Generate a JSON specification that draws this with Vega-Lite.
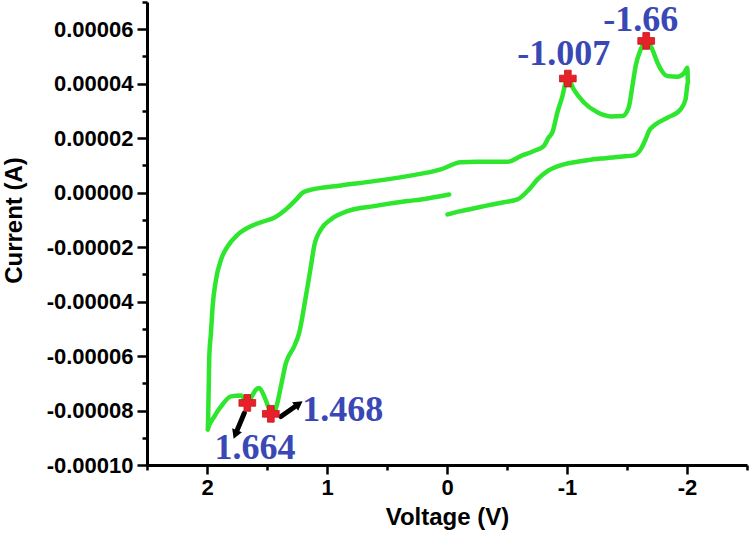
{
  "$schema": "https://vega.github.io/schema/vega-lite/v6.json",
  "width": 600,
  "height": 463,
  "autosize": "none",
  "padding": {"left": 147, "top": 2, "right": 3, "bottom": 73},
  "background": "white",
  "config": {
    "view": {"stroke": null},
    "axis": {
      "grid": false,
      "domainColor": "black",
      "domainWidth": 3,
      "tickColor": "black",
      "tickWidth": 2.5,
      "labelColor": "black",
      "labelFont": "Liberation Sans",
      "labelFontWeight": "bold",
      "labelFontSize": 22,
      "titleFont": "Liberation Sans",
      "titleFontWeight": "bold",
      "titleFontSize": 24,
      "titleColor": "black",
      "labelOverlap": false,
      "labelBound": false,
      "labelFlush": false
    }
  },
  "datasets": {
    "curve": [
      {"i": 1, "v": -0.018, "c": -6.6e-7},
      {"i": 2, "v": 0.218, "c": -2.5e-6},
      {"i": 3, "v": 0.329, "c": -3.1e-6},
      {"i": 4, "v": 0.607, "c": -4.96e-6},
      {"i": 5, "v": 0.829, "c": -6.8e-6},
      {"i": 6, "v": 0.968, "c": -9.85e-6},
      {"i": 7, "v": 1.051, "c": -1.353e-5},
      {"i": 8, "v": 1.107, "c": -1.967e-5},
      {"i": 9, "v": 1.134, "c": -2.7e-5},
      {"i": 10, "v": 1.162, "c": -3.44e-5},
      {"i": 11, "v": 1.19, "c": -4.17e-5},
      {"i": 12, "v": 1.232, "c": -5.15e-5},
      {"i": 13, "v": 1.273, "c": -5.64e-5},
      {"i": 14, "v": 1.342, "c": -6.25e-5},
      {"i": 15, "v": 1.384, "c": -7.11e-5},
      {"i": 16, "v": 1.426, "c": -7.91e-5},
      {"i": 17, "v": 1.468, "c": -8.12e-5},
      {"i": 18, "v": 1.481, "c": -7.97e-5},
      {"i": 19, "v": 1.523, "c": -7.48e-5},
      {"i": 20, "v": 1.565, "c": -7.17e-5},
      {"i": 21, "v": 1.592, "c": -7.23e-5},
      {"i": 22, "v": 1.634, "c": -7.54e-5},
      {"i": 23, "v": 1.664, "c": -7.72e-5},
      {"i": 24, "v": 1.717, "c": -7.45e-5},
      {"i": 25, "v": 1.8, "c": -7.48e-5},
      {"i": 26, "v": 1.883, "c": -7.85e-5},
      {"i": 27, "v": 1.939, "c": -8.22e-5},
      {"i": 28, "v": 1.994, "c": -8.7e-5},
      {"i": 29, "v": 1.986, "c": -7.23e-5},
      {"i": 30, "v": 1.981, "c": -6.01e-5},
      {"i": 31, "v": 1.967, "c": -5.15e-5},
      {"i": 32, "v": 1.953, "c": -4.17e-5},
      {"i": 33, "v": 1.925, "c": -3.19e-5},
      {"i": 34, "v": 1.883, "c": -2.46e-5},
      {"i": 35, "v": 1.828, "c": -1.97e-5},
      {"i": 36, "v": 1.744, "c": -1.54e-5},
      {"i": 37, "v": 1.634, "c": -1.23e-5},
      {"i": 38, "v": 1.523, "c": -1.05e-5},
      {"i": 39, "v": 1.44, "c": -9.2e-6},
      {"i": 40, "v": 1.328, "c": -5.6e-6},
      {"i": 41, "v": 1.25, "c": -2.2e-6},
      {"i": 42, "v": 1.2, "c": 1e-7},
      {"i": 43, "v": 1.12, "c": 1.2e-6},
      {"i": 44, "v": 0.884, "c": 2.65e-6},
      {"i": 45, "v": 0.607, "c": 4.23e-6},
      {"i": 46, "v": 0.329, "c": 6.07e-6},
      {"i": 47, "v": 0.052, "c": 8.53e-6},
      {"i": 48, "v": -0.115, "c": 1.12e-5},
      {"i": 49, "v": -0.254, "c": 1.136e-5},
      {"i": 50, "v": -0.504, "c": 1.136e-5},
      {"i": 51, "v": -0.615, "c": 1.34e-5},
      {"i": 52, "v": -0.723, "c": 1.53e-5},
      {"i": 53, "v": -0.806, "c": 1.71e-5},
      {"i": 54, "v": -0.848, "c": 2.03e-5},
      {"i": 55, "v": -0.878, "c": 2.21e-5},
      {"i": 56, "v": -0.92, "c": 2.95e-5},
      {"i": 57, "v": -0.962, "c": 3.55e-5},
      {"i": 58, "v": -0.989, "c": 4.05e-5},
      {"i": 59, "v": -1.007, "c": 4.19e-5},
      {"i": 60, "v": -1.056, "c": 3.79e-5},
      {"i": 61, "v": -1.139, "c": 3.32e-5},
      {"i": 62, "v": -1.253, "c": 2.95e-5},
      {"i": 63, "v": -1.364, "c": 2.8e-5},
      {"i": 64, "v": -1.461, "c": 2.81e-5},
      {"i": 65, "v": -1.514, "c": 3.13e-5},
      {"i": 66, "v": -1.545, "c": 3.91e-5},
      {"i": 67, "v": -1.572, "c": 4.65e-5},
      {"i": 68, "v": -1.614, "c": 5.26e-5},
      {"i": 69, "v": -1.66, "c": 5.57e-5},
      {"i": 70, "v": -1.711, "c": 5.26e-5},
      {"i": 71, "v": -1.753, "c": 4.78e-5},
      {"i": 72, "v": -1.836, "c": 4.28e-5},
      {"i": 73, "v": -1.919, "c": 4.26e-5},
      {"i": 74, "v": -1.974, "c": 4.38e-5},
      {"i": 75, "v": -2.003, "c": 4.59e-5},
      {"i": 76, "v": -2.008, "c": 4.04e-5},
      {"i": 77, "v": -1.988, "c": 3.43e-5},
      {"i": 78, "v": -1.947, "c": 3.06e-5},
      {"i": 79, "v": -1.836, "c": 2.75e-5},
      {"i": 80, "v": -1.739, "c": 2.51e-5},
      {"i": 81, "v": -1.683, "c": 2.26e-5},
      {"i": 82, "v": -1.655, "c": 1.96e-5},
      {"i": 83, "v": -1.614, "c": 1.59e-5},
      {"i": 84, "v": -1.558, "c": 1.37e-5},
      {"i": 85, "v": -1.447, "c": 1.32e-5},
      {"i": 86, "v": -1.281, "c": 1.25e-5},
      {"i": 87, "v": -1.087, "c": 1.136e-5},
      {"i": 88, "v": -0.975, "c": 1.04e-5},
      {"i": 89, "v": -0.837, "c": 7.9e-6},
      {"i": 90, "v": -0.754, "c": 4.85e-6},
      {"i": 91, "v": -0.684, "c": 1.2e-6},
      {"i": 92, "v": -0.587, "c": -2.5e-6},
      {"i": 93, "v": -0.475, "c": -3.5e-6},
      {"i": 94, "v": -0.309, "c": -4.96e-6},
      {"i": 95, "v": -0.115, "c": -6.8e-6},
      {"i": 96, "v": -0.004, "c": -8.0e-6}
    ],
    "peaks": [
      {"v": 1.664, "c": -7.72e-5},
      {"v": 1.468, "c": -8.12e-5},
      {"v": -1.007, "c": 4.19e-5},
      {"v": -1.66, "c": 5.57e-5}
    ],
    "labels": [
      {"t": "-1.66", "v": -1.614, "c": 6.35e-5},
      {"t": "-1.007", "v": -0.973, "c": 5.1e-5},
      {"t": "1.468", "v": 0.868, "c": -7.97e-5},
      {"t": "1.664", "v": 1.6, "c": -9.37e-5}
    ],
    "arrows": [
      {"a": 1, "v": 1.759, "c": -8.83e-5, "v2": 1.689, "c2": -8.09e-5},
      {"a": 2, "v": 1.245, "c": -7.79e-5, "v2": 1.384, "c2": -8.22e-5}
    ]
  },
  "encoding": {
    "x": {
      "field": "v",
      "type": "quantitative",
      "scale": {"domain": [-2.5, 2.5], "reverse": true, "nice": false, "zero": false},
      "axis": {
        "title": "Voltage (V)",
        "values": [2.5, 2, 1.5, 1, 0.5, 0, -0.5, -1, -1.5, -2, -2.5],
        "labelExpr": "(datum.value % 1 == 0 && abs(datum.value) < 2.4) ? (datum.value < 0 ? '-' + format(-datum.value, 'd') : format(datum.value, 'd')) : ''",
        "tickSize": {"condition": {"test": "datum.value % 1 == 0", "value": 9}, "value": 5},
        "labelPadding": 3,
        "titlePadding": 7
      }
    },
    "y": {
      "field": "c",
      "type": "quantitative",
      "scale": {"domain": [-0.0001, 0.00007], "nice": false, "zero": false},
      "axis": {
        "title": "Current (A)",
        "values": [-0.0001, -0.00009, -0.00008, -0.00007, -0.00006, -0.00005, -0.00004, -0.00003, -0.00002, -0.00001, 0, 0.00001, 0.00002, 0.00003, 0.00004, 0.00005, 0.00006, 0.00007],
        "labelExpr": "round(datum.value * 100000) % 2 == 0 ? (datum.value < 0 ? '-' + format(-datum.value, '.5f') : format(datum.value, '.5f')) : ''",
        "tickSize": {"condition": {"test": "round(datum.value * 100000) % 2 == 0", "value": 10}, "value": 5},
        "labelPadding": 4,
        "titlePadding": 20,
        "titleY": 218
      }
    }
  },
  "layer": [
    {
      "data": {"name": "curve"},
      "mark": {"type": "line", "color": "#2ee62e", "strokeWidth": 4.5, "strokeCap": "round", "strokeJoin": "round", "interpolate": "monotone"},
      "encoding": {"order": {"field": "i", "type": "quantitative"}}
    },
    {
      "data": {"name": "arrows"},
      "mark": {"type": "rule", "color": "black", "strokeWidth": 5, "strokeCap": "round"},
      "encoding": {
        "x2": {"field": "v2"},
        "y2": {"field": "c2"}
      }
    },
    {
      "data": {"name": "arrows"},
      "transform": [{"filter": "datum.a == 1"}],
      "mark": {"type": "point", "shape": "triangle", "filled": true, "color": "black", "opacity": 1, "size": 110, "angle": 202},
      "encoding": {}
    },
    {
      "data": {"name": "arrows"},
      "transform": [{"filter": "datum.a == 2"}],
      "mark": {"type": "point", "shape": "triangle", "filled": true, "color": "black", "opacity": 1, "size": 110, "angle": 55},
      "encoding": {}
    },
    {
      "data": {"name": "peaks"},
      "mark": {"type": "point", "shape": "cross", "filled": true, "color": "#e8202a", "opacity": 1, "size": 280, "stroke": "#c01818", "strokeWidth": 0.8},
      "encoding": {}
    },
    {
      "data": {"name": "labels"},
      "mark": {"type": "text", "font": "Liberation Serif", "fontWeight": "bold", "fontSize": 36, "color": "#3a48b5", "align": "center", "baseline": "middle"},
      "encoding": {"text": {"field": "t", "type": "nominal"}}
    }
  ]
}
